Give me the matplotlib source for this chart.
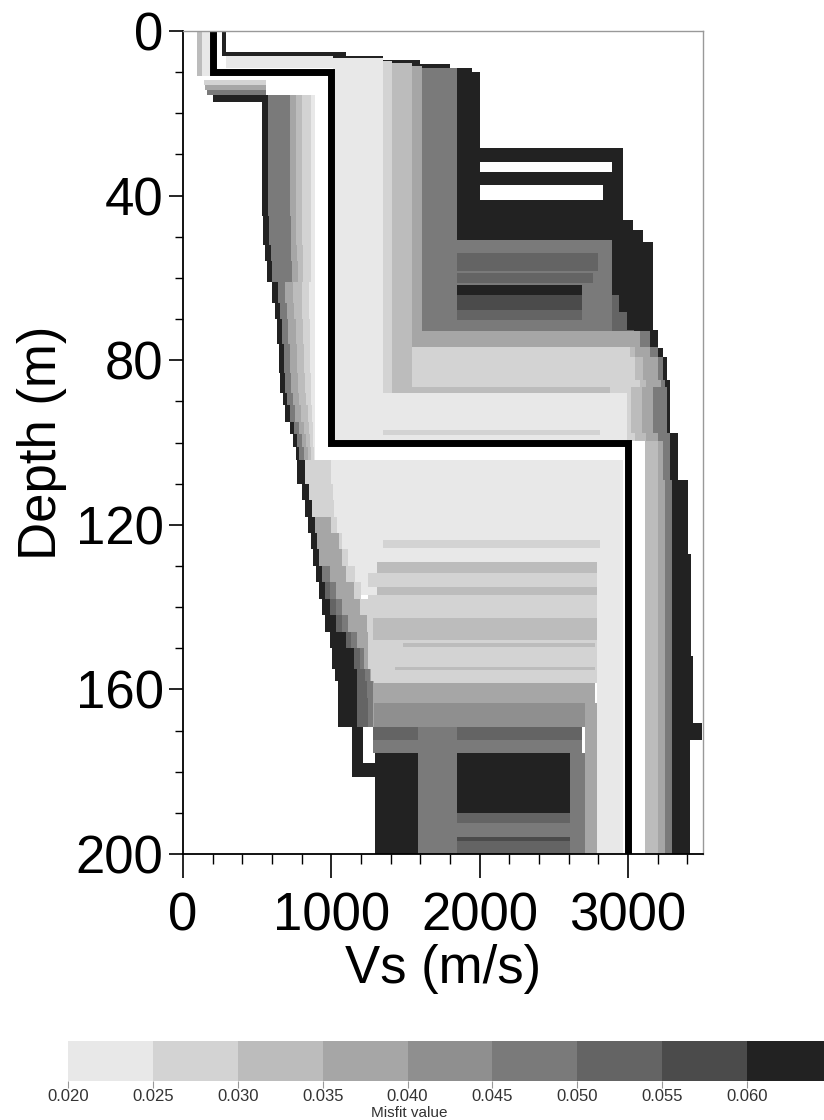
import numpy as np
import matplotlib
matplotlib.use("Agg")
import matplotlib.pyplot as plt
from matplotlib.colors import ListedColormap, BoundaryNorm
from matplotlib.cm import ScalarMappable
from matplotlib.ticker import MultipleLocator

plt.rcParams['font.family'] = ['Liberation Sans', 'DejaVu Sans']

# misfit classes and grey shades (light = good fit, dark = poor fit)
misfit_bounds = [0.020, 0.025, 0.030, 0.035, 0.040, 0.045, 0.050, 0.055, 0.060, 0.065]
misfit_ticks = [0.020, 0.025, 0.030, 0.035, 0.040, 0.045, 0.050, 0.055, 0.060]
grey_shades = ['#e8e8e8', '#d3d3d3', '#bcbcbc', '#a6a6a6', '#8f8f8f',
               '#7a7a7a', '#646464', '#4b4b4b', '#222222']

# reference (true) Vs model: velocity and top of each layer
ref_vs = [200, 1000, 3000]
ref_top = [0, 10, 100]
max_depth = 200

# rectangular parts of the ensemble: (misfit, top, bottom, vs_min, vs_max)
surface_bands = [
    (0.032, 0.0, 11.0, 94, 125),
    (0.022, 0.0, 11.0, 125, 180),
    (0.063, 0.0, 5.1, 265, 290),
    (0.022, 6.0, 9.0, 290, 1011),
    (0.027, 12.0, 13.2, 140, 560),
    (0.037, 13.2, 14.3, 150, 560),
    (0.047, 14.3, 15.6, 165, 560),
]
black_bands = [
    (0.063, 28.4, 31.8, 1011, 2966),
    (0.063, 31.8, 34.3, 1011, 2002),
    (0.063, 31.8, 34.3, 2892, 2966),
    (0.063, 34.3, 37.4, 1011, 2966),
    (0.063, 37.4, 41.1, 1011, 2002),
    (0.063, 37.4, 41.1, 2832, 2966),
]
corner_bands = [
    (0.047, 50.8, 73.0, 1847, 2892),
    (0.052, 54.0, 58.4, 1847, 2798),
    (0.052, 58.9, 61.2, 1847, 2764),
    (0.063, 61.7, 64.2, 1847, 2690),
    (0.057, 64.2, 67.9, 1847, 2690),
    (0.052, 67.9, 70.2, 1847, 2690),
]
corner_stripes = [
    (0.032, 86.5, 88.0, 1409, 2879),
    (0.027, 97.0, 98.2, 1300, 2811),
]
corner_columns = [
    (0.022, 6.5, 99.6, 1011, 1348),
    (0.027, 7.2, 88.0, 1348, 1409),
    (0.032, 7.8, 88.0, 1409, 1544),
    (0.037, 8.5, 76.8, 1544, 1611),
    (0.047, 9.0, 73.0, 1611, 1847),
]
deep_bands = [
    (0.022, 104.3, 137.1, 1000, 2966),
    (0.022, 104.3, 200.0, 2791, 2966),
    (0.027, 123.7, 125.6, 1348, 2811),
    (0.032, 129.0, 131.7, 1308, 2791),
    (0.027, 131.7, 135.1, 1247, 2791),
    (0.032, 135.1, 137.1, 1308, 2791),
    (0.027, 137.1, 158.4, 1247, 2791),
    (0.032, 142.6, 148.0, 1280, 2791),
    (0.032, 148.7, 149.7, 1483, 2777),
    (0.032, 154.5, 155.3, 1429, 2777),
    (0.037, 158.4, 163.3, 1247, 2777),
    (0.042, 163.3, 169.1, 1247, 2750),
    (0.037, 163.3, 200.0, 2710, 2791),
    (0.052, 169.1, 172.3, 1281, 2690),
    (0.047, 172.3, 175.5, 1281, 2690),
    (0.063, 175.5, 200.0, 1294, 1584),
    (0.047, 169.1, 200.0, 1584, 1847),
    (0.063, 175.5, 190.0, 1847, 2609),
    (0.047, 175.5, 200.0, 2609, 2710),
    (0.052, 190.0, 192.5, 1847, 2609),
    (0.047, 192.5, 195.9, 1847, 2609),
    (0.057, 195.9, 196.8, 1847, 2609),
    (0.052, 196.8, 200.0, 1847, 2609),
]

# stepped envelopes (depth grid, then Vs edges per misfit class)
top_z = [5.1, 6.0, 7.0, 8.0, 9.0, 10.0, 11.2, 28.4]
top_left = [265, 1011, 1011, 1011, 1011, 1011, 1011, 1011]
top_right = [1100, 1350, 1600, 1800, 1950, 2002, 2002, 2002]

corner_z = [41.1, 45.9, 48.4, 51.3, 72.7, 77.0, 79.2, 84.8, 97.7, 99.6]
corner_right = [2966, 3034, 3100, 3169, 3203, 3236, 3263, 3283, 3337, 3337]

slope_z = [64.2, 68.3, 72.7, 75.5, 79.2]
slope_right = [2940, 2990, 3040, 3100, 3100]

lower_z = [73.0, 76.8, 79.2, 84.8, 86.5, 88.0, 97.7, 99.6]
lower_left = {0.047: 2892, 0.037: 1544, 0.032: 1544, 0.027: 1544, 0.022: 1300}
lower_right = {
    0.047: [3150, 3200, 3236, 3250, 3263, 3263, 3283, 3283],
    0.037: [3081, 3150, 3200, 3220, 3169, 3169, 3200, 3200],
    0.032: [1544, 3050, 3100, 3120, 3095, 3095, 3120, 3120],
    0.027: [1544, 3014, 3050, 3081, 3020, 3020, 3050, 3050],
    0.022: [1300, 1300, 1300, 1300, 1300, 2993, 2993, 2993],
}

# left of the reference model, above 104 m
left_z = [15.6, 17.3, 28, 45, 52, 56, 61, 66, 70, 76, 83, 88, 91, 95, 98, 101, 104.3]
left_right = 890
left_edges = {
    0.063: [200, 533, 533, 540, 553, 566, 600, 620, 634, 645, 654, 674, 688, 720, 742, 760, 760],
    0.047: [573, 573, 573, 580, 590, 600, 640, 655, 668, 680, 688, 700, 720, 750, 769, 785, 785],
    0.037: [721, 721, 721, 725, 730, 735, 690, 700, 710, 720, 728, 740, 755, 785, 800, 815, 815],
    0.032: [760, 760, 762, 765, 770, 775, 740, 750, 760, 770, 775, 785, 795, 815, 830, 840, 840],
    0.027: [800, 800, 802, 805, 808, 812, 800, 805, 810, 815, 820, 830, 840, 850, 855, 860, 860],
    0.022: [860, 860, 860, 860, 862, 862, 850, 852, 855, 858, 860, 865, 870, 875, 878, 880, 880],
}

# left edge of the ensemble below the reference interface at 100 m
edge_z = [104.3, 110, 114, 118, 122, 126, 130, 134, 138, 142, 146, 150, 155, 158, 162, 166, 169.1, 177.9, 181.3]
edge_left = [769, 800, 823, 845, 862, 876, 895, 915, 937, 960, 991, 1005, 1025, 1045, 1045, 1045, 1139, 1139, 1139]
edge_right = {
    0.027: [1000, 1011, 1020, 1040, 1072, 1110, 1160, 1200, 1247, 1250, 1250, 1250, 1250, 1250, 1250, 1250, 1214, 1308, 1308],
    0.037: [820, 850, 870, 1000, 1050, 1072, 1100, 1150, 1190, 1241, 1250, 1250, 1270, 1290, 1290, 1290, 1214, 1308, 1308],
    0.047: [820, 850, 870, 890, 905, 920, 990, 1030, 1070, 1110, 1170, 1220, 1260, 1280, 1280, 1280, 1214, 1308, 1308],
    0.052: [820, 850, 870, 890, 905, 920, 940, 990, 1030, 1070, 1130, 1190, 1230, 1240, 1247, 1247, 1214, 1308, 1308],
    0.063: [820, 850, 870, 890, 905, 920, 940, 960, 990, 1030, 1100, 1150, 1173, 1173, 1173, 1173, 1214, 1308, 1308],
}

# right of the reference half-space
right_z = [99.6, 109, 127, 152, 168.2, 172.3, 200]
right_left = 3115
right_edges = {
    0.063: [3337, 3405, 3425, 3438, 3499, 3418, 3418],
    0.047: [3283, 3297, 3297, 3297, 3297, 3297, 3297],
    0.037: [3236, 3250, 3250, 3250, 3250, 3250, 3250],
    0.032: [3203, 3203, 3203, 3203, 3203, 3203, 3203],
}

cmap = ListedColormap(grey_shades)
norm = BoundaryNorm(misfit_bounds, cmap.N)


def shade(m):
    return cmap(norm(m))


def draw_bands(ax, bands):
    for m, z0, z1, v0, v1 in bands:
        ax.fill_betweenx([z0, z1], v0, v1, color=shade(m), lw=0)


def draw_steps(ax, m, z, left, right):
    ax.fill_betweenx(z, left, right, step='post', color=shade(m), lw=0)


fig = plt.figure(figsize=(8.24, 11.2), dpi=100)
ax = fig.add_axes([0.2221, 0.2375, 0.6311, 0.7348])

# poor models first, best models drawn on top
draw_steps(ax, 0.063, top_z, top_left, top_right)
draw_bands(ax, surface_bands)
draw_bands(ax, black_bands)
draw_steps(ax, 0.063, corner_z, 1011, corner_right)
draw_bands(ax, corner_bands)
draw_steps(ax, 0.052, slope_z, 2892, slope_right)
for m in [0.047, 0.037, 0.032, 0.027, 0.022]:
    draw_steps(ax, m, lower_z, lower_left[m], lower_right[m])
draw_bands(ax, corner_stripes)
draw_bands(ax, corner_columns)

for m in [0.063, 0.047, 0.037, 0.032, 0.027, 0.022]:
    draw_steps(ax, m, left_z, left_edges[m], left_right)

draw_bands(ax, deep_bands)
for m in [0.027, 0.037, 0.047, 0.052, 0.063]:
    draw_steps(ax, m, edge_z, edge_left, edge_right[m])

for m in [0.063, 0.047, 0.037, 0.032]:
    draw_steps(ax, m, right_z, right_left, right_edges[m])

# reference model
line_vs = np.repeat(ref_vs, 2)
line_z = np.concatenate([[0], np.repeat(ref_top[1:], 2), [max_depth]])
ax.plot(line_vs, line_z, color='black', lw=5, solid_joinstyle='miter', solid_capstyle='butt')

ax.set_xlim(0, 3506)
ax.set_ylim(max_depth, 0)
ax.set_xticks([0, 1000, 2000, 3000])
ax.set_yticks([0, 40, 80, 120, 160, 200])
ax.xaxis.set_minor_locator(MultipleLocator(200))
ax.yaxis.set_minor_locator(MultipleLocator(10))
ax.tick_params(axis='x', which='major', length=17, width=1.2, labelsize=38, pad=10)
ax.tick_params(axis='x', which='minor', length=7, width=1.0)
ax.tick_params(axis='y', which='major', length=10, width=1.2, labelsize=38, pad=4)
ax.tick_params(axis='y', which='minor', length=6, width=1.0)
for side in ['top', 'right']:
    ax.spines[side].set_color('#999999')
    ax.spines[side].set_linewidth(1.0)
for side in ['left', 'bottom']:
    ax.spines[side].set_linewidth(1.3)
ax.set_xlabel('Vs (m/s)', fontsize=38, labelpad=2)
ax.set_ylabel('Depth (m)', fontsize=38, labelpad=6)

# colour scale
cax = fig.add_axes([0.0825, 0.0348, 0.9272, 0.0357])
cb = fig.colorbar(ScalarMappable(norm=norm, cmap=cmap), cax=cax,
                  orientation='horizontal', ticks=misfit_ticks)
cb.outline.set_visible(False)
cb.ax.set_xticklabels(['%.3f' % t for t in misfit_ticks])
cb.ax.tick_params(length=5, width=0.8, color='#999999', labelsize=12, pad=1, labelcolor='#333333')
fig.text(0.497, 0.0, 'Misfit value', ha='center', va='bottom', fontsize=11, color='#333333')

fig.savefig('out.png', dpi=100)
